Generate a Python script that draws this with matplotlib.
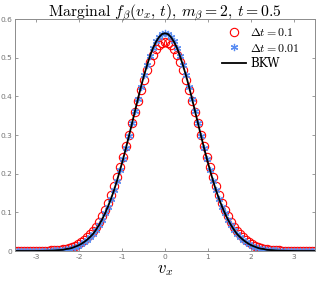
import numpy as np
import matplotlib
matplotlib.use("Agg")
import matplotlib.pyplot as plt

plt.rcParams['mathtext.fontset'] = 'cm'
plt.rcParams['font.family'] = ['DejaVu Serif']

# half profiles for v_x >= 0 (step 0.07); curves are symmetric
bkw_half = [0.563, 0.561, 0.553, 0.541, 0.525, 0.504, 0.480, 0.454, 0.425, 0.394,
            0.362, 0.330, 0.298, 0.267, 0.237, 0.209, 0.182, 0.157, 0.135, 0.115,
            0.097, 0.081, 0.067, 0.055, 0.044, 0.036, 0.029, 0.023, 0.018, 0.014,
            0.011, 0.008, 0.006, 0.005, 0.003, 0.0025, 0.002, 0.0013, 0.001, 0.0007,
            0.0005, 0.0003, 0.0002, 0.0001, 0.0, 0.0, 0.0, 0.0, 0.0, 0.0, 0.0]
dt001_half = [0.565, 0.562, 0.554, 0.542, 0.525, 0.505, 0.481, 0.454, 0.425, 0.394,
              0.362, 0.330, 0.298, 0.267, 0.237, 0.209, 0.182, 0.157, 0.135, 0.115,
              0.097, 0.081, 0.067, 0.055, 0.044, 0.036, 0.029, 0.023, 0.018, 0.014,
              0.011, 0.008, 0.006, 0.005, 0.003, 0.0025, 0.002, 0.0013, 0.001, 0.0007,
              0.0005, 0.0003, 0.0002, 0.0001, 0.0, 0.0, 0.0, 0.0, 0.0, 0.0, 0.0]
dt01_half = [0.541, 0.539, 0.532, 0.522, 0.507, 0.489, 0.467, 0.443, 0.417, 0.389,
             0.360, 0.331, 0.301, 0.272, 0.244, 0.217, 0.191, 0.167, 0.145, 0.125,
             0.106, 0.090, 0.076, 0.063, 0.052, 0.043, 0.035, 0.028, 0.022, 0.018,
             0.014, 0.011, 0.008, 0.006, 0.005, 0.0037, 0.0028, 0.0021, 0.0015, 0.0011,
             0.0008, 0.0006, 0.0004, 0.0003, 0.0002, 0.0001, 0.0, 0.0, 0.0, 0.0, 0.0]

vx = np.linspace(-3.5, 3.5, 101)
bkw = np.array(bkw_half[:0:-1] + bkw_half)
dt001 = np.array(dt001_half[:0:-1] + dt001_half)
dt01 = np.array(dt01_half[:0:-1] + dt01_half)

xticks = [-3, -2, -1, 0, 1, 2, 3]
yticks = [0, 0.1, 0.2, 0.3, 0.4, 0.5, 0.6]

fig = plt.figure(figsize=(3.19, 2.83), dpi=100)
ax = fig.add_axes([15/319, 32/283, 300/319, 232/283])

ax.plot(vx, dt01, 'o', mfc='none', mec=(1, 0, 0), ms=6.0, mew=0.8,
        label=r'$\Delta t = 0.1$')
ax.plot(vx, dt001, marker=(6, 2, 0), ls='none', color=(0.35, 0.55, 0.95), ms=5.2,
        mew=0.9, label=r'$\Delta t = 0.01$')
ax.plot(vx, bkw, '-', color='k', lw=1.3, label='BKW')

ax.set_xlim(-3.5, 3.5)
ax.set_ylim(0, 0.6)
ax.set_xticks(xticks)
ax.set_yticks(yticks)
ax.set_xticklabels([str(t) for t in xticks], family='DejaVu Sans')
ax.set_yticklabels(['0', '0.1', '0.2', '0.3', '0.4', '0.5', '0.6'], family='DejaVu Sans')
ax.tick_params(direction='in', length=2.5, width=0.5, labelsize=5.4,
               colors='0.45', top=True, right=True, pad=2)
for s in ax.spines.values():
    s.set_color('0.55')
    s.set_linewidth(0.7)

ax.set_title(r'Marginal $f_\beta(v_x,\, t)$, $m_\beta = 2$, $t = 0.5$',
             fontsize=11.3, pad=2, family='cmr10')
ax.set_xlabel(r'$v_x$', fontsize=12, labelpad=1)

leg = ax.legend(loc='upper right', bbox_to_anchor=(0.975, 1.0), frameon=False,
                fontsize=8.6, handlelength=2.0, handletextpad=0.4,
                labelspacing=0.2, borderaxespad=0.2)

fig.savefig('out.png', dpi=100)
